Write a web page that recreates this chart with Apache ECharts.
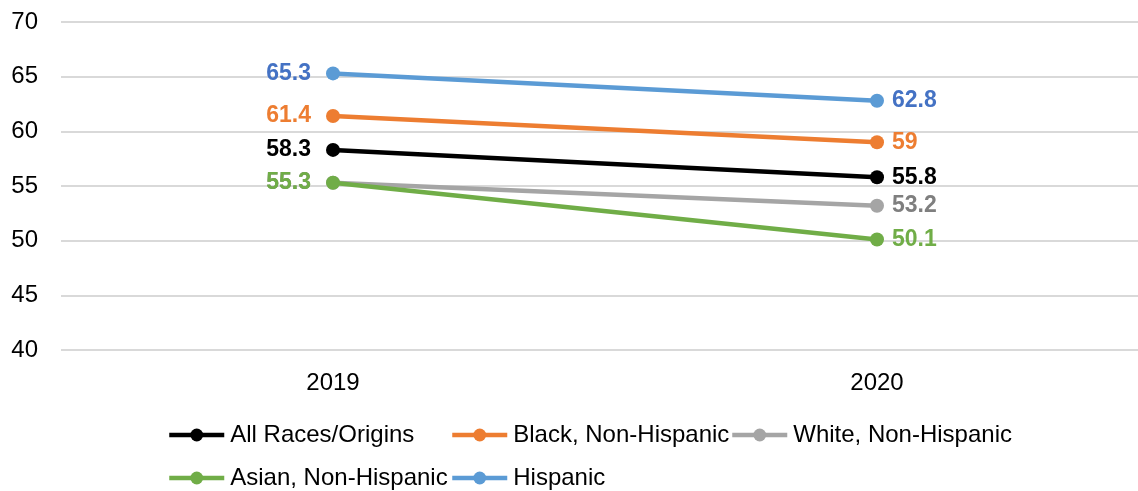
<!DOCTYPE html>
<html><head><meta charset="utf-8">
<script src="https://cdn.jsdelivr.net/npm/echarts@6/dist/echarts.min.js"></script>
<style>html,body{margin:0;padding:0;background:#fff;overflow:hidden}#c{width:1149px;height:491px}</style>
</head><body><div id="c"></div>
<script>
const categories = ['2019', '2020'];
const seriesNames = ['All Races/Origins', 'Black, Non-Hispanic', 'White, Non-Hispanic', 'Asian, Non-Hispanic', 'Hispanic'];
const allRaces = [58.3, 55.8];
const black = [61.4, 59];
const white = [55.3, 53.2];
const asian = [55.3, 50.1];
const hispanic = [65.3, 62.8];
const yTicks = [40, 45, 50, 55, 60, 65, 70];

const values = [allRaces, black, white, asian, hispanic];
const lineColors = ['#000000', '#ED7D31', '#A5A5A5', '#70AD47', '#5B9BD5'];
const labelColors = ['#000000', '#ED7D31', '#7F7F7F', '#70AD47', '#4472C4'];
const font = 'Liberation Sans, Arial, sans-serif';

const series = values.map((vals, i) => ({
  name: seriesNames[i],
  type: 'line',
  data: vals.map((v, j) => ({
    value: v,
    label: { position: j === 0 ? 'left' : 'right', distance: j === 0 ? 15 : 8 }
  })),
  symbol: 'circle',
  symbolSize: 14,
  z: i === 2 ? 1 : 2,
  lineStyle: { width: 4.5, color: lineColors[i] },
  itemStyle: { color: lineColors[i] },
  label: {
    show: true,
    fontFamily: font,
    fontSize: 23,
    fontWeight: 'bold',
    color: labelColors[i],
    formatter: p => String(p.value)
  },
  emphasis: { disabled: true },
  animation: false
}));

const legendPos = [[167, 423], [450, 423], [730, 423], [167, 466], [450, 466]];
const legends = seriesNames.map((n, i) => ({
  data: [n],
  left: legendPos[i][0],
  top: legendPos[i][1],
  itemWidth: 55,
  itemHeight: 16,
  itemGap: 0,
  padding: 0,
  selectedMode: false,
  lineStyle: { width: 4.5 },
  textStyle: { fontFamily: font, fontSize: 24, lineHeight: 24, color: '#000', padding: [0, 0, 0, 1] }
}));

const chart = echarts.init(document.getElementById('c'), null, { renderer: 'canvas' });
chart.setOption({
  backgroundColor: '#fff',
  animation: false,
  grid: { left: 61, right: 0, top: 22, bottom: 141 },
  legend: legends,
  xAxis: {
    type: 'category',
    data: categories,
    axisLine: { show: false },
    axisTick: { show: false },
    axisLabel: { fontFamily: font, fontSize: 24, color: '#000', margin: 21 }
  },
  yAxis: {
    type: 'value',
    min: yTicks[0],
    max: yTicks[yTicks.length - 1],
    interval: 5,
    axisLine: { show: false },
    axisTick: { show: false },
    axisLabel: { fontFamily: font, fontSize: 24, color: '#000', margin: 23 },
    splitLine: { lineStyle: { color: '#D9D9D9', width: 2 } }
  },
  series: series
});
</script></body></html>
